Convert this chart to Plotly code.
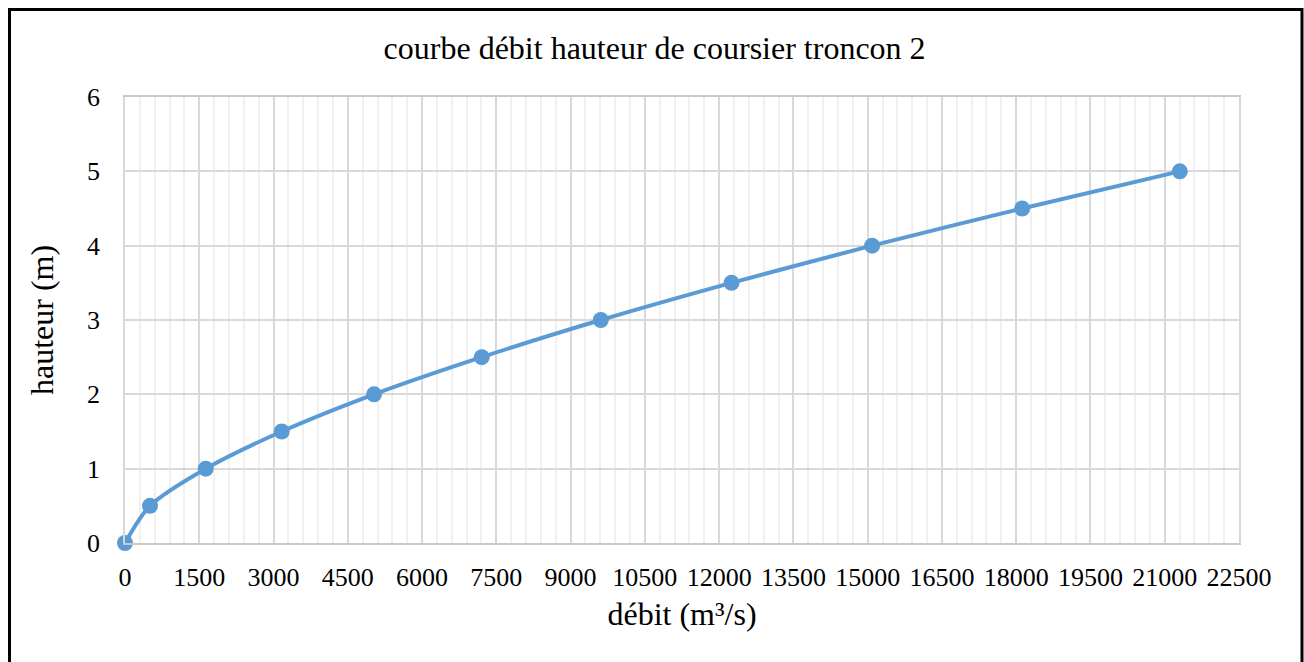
import plotly.graph_objects as go

# Débit (m³/s) et hauteur (m) du coursier, tronçon 2
debit = [0, 505, 1630, 3165, 5030, 7205, 9610, 12250, 15090, 18120, 21305]
hauteur = [0, 0.5, 1, 1.5, 2, 2.5, 3, 3.5, 4, 4.5, 5]

x_ticks = list(range(0, 22501, 1500))
y_ticks = [0, 1, 2, 3, 4, 5, 6]

FONT = "Liberation Serif, Times New Roman, serif"
BLUE = "#5b9bd5"

fig = go.Figure()
fig.add_trace(go.Scatter(
    x=debit, y=hauteur,
    mode="lines+markers",
    line=dict(color=BLUE, width=4, shape="spline", smoothing=0.8),
    marker=dict(color=BLUE, size=16),
    cliponaxis=False,
    showlegend=False,
    hoverinfo="x+y",
))

L, R, T, B = 125, 65, 97, 119
W, H = 1304, 662
pw, ph = W - L - R, H - T - B

def px_x(p):
    return (p - L) / pw

def px_y(p):
    return (H - B - p) / ph

fig.add_shape(
    type="rect", xref="paper", yref="paper",
    x0=px_x(9.5), x1=px_x(1302), y0=px_y(680), y1=px_y(9.5),
    line=dict(color="black", width=3), fillcolor="rgba(0,0,0,0)", layer="above",
)

fig.update_layout(
    width=W, height=H,
    margin=dict(l=L, r=R, t=T, b=B),
    paper_bgcolor="white", plot_bgcolor="white",
    font=dict(family=FONT, color="black"),
    title=dict(
        text="courbe débit hauteur de coursier troncon 2",
        x=0.502, xref="container", xanchor="center",
        y=1 - 48 / H, yref="container", yanchor="middle",
        font=dict(family=FONT, size=32, color="black"),
    ),
    xaxis=dict(
        range=[0, 22500], tickmode="array", tickvals=x_ticks,
        ticktext=[str(v) for v in x_ticks],
        showgrid=True, gridcolor="#d9d9d9", gridwidth=1.5,
        minor=dict(dtick=300, showgrid=True, gridcolor="#f0f0f0", gridwidth=1.5),
        showline=True, linecolor="#c8c8c8", linewidth=2, mirror=True,
        zeroline=False, ticks="",
        tickfont=dict(family=FONT, size=26, color="black"),
        ticklabelstandoff=10,
        title=dict(text="débit (m³/s)", font=dict(family=FONT, size=32, color="black"), standoff=11),
    ),
    yaxis=dict(
        range=[0, 6], tickmode="array", tickvals=y_ticks,
        showgrid=True, gridcolor="#d9d9d9", gridwidth=1.5,
        showline=True, linecolor="#d9d9d9", linewidth=1.5, mirror=True,
        zeroline=False, ticks="",
        tickfont=dict(family=FONT, size=26, color="black"),
        ticklabelstandoff=18,
        title=dict(text="hauteur (m)", font=dict(family=FONT, size=32, color="black"), standoff=24),
    ),
)

fig.write_html("out.html")
